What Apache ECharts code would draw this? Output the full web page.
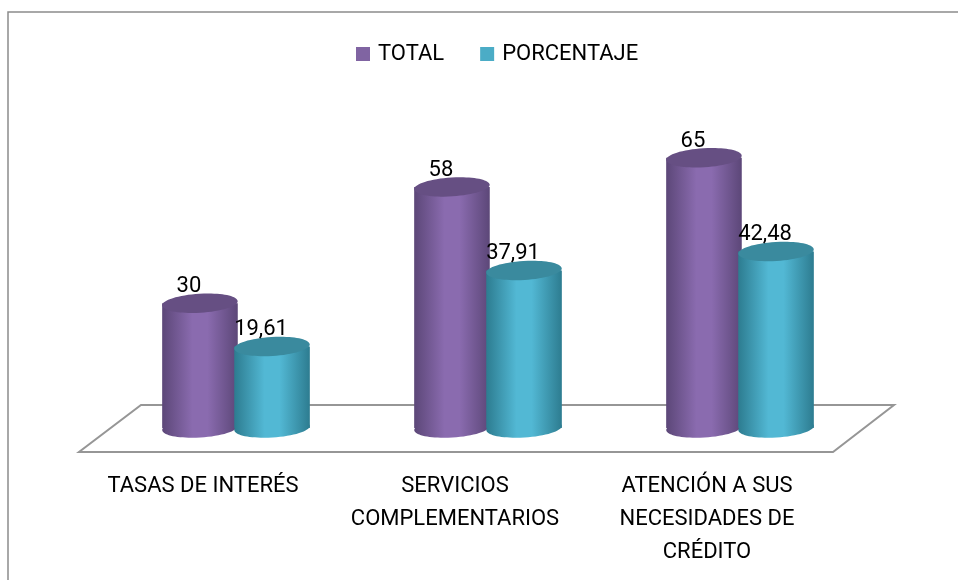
<!DOCTYPE html>
<html>
<head>
<meta charset="utf-8">
<script src="https://cdn.jsdelivr.net/npm/echarts@6/dist/echarts.min.js"></script>
<style>
  html, body { margin: 0; padding: 0; background: #fff; }
  #chart { width: 958px; height: 580px; }
</style>
</head>
<body>
<div id="chart"></div>
<script>
const categories = ['TASAS DE INTERÉS', 'SERVICIOS\nCOMPLEMENTARIOS', 'ATENCIÓN A SUS\nNECESIDADES DE\nCRÉDITO'];
const seriesNames = ['TOTAL', 'PORCENTAJE'];
const totalValues = [30, 58, 65];
const percentValues = [19.61, 37.91, 42.48];

const FONT = "Roboto, 'Liberation Sans', sans-serif";
const FS = 22;

const palette = [
  { legend: '#8064A2', top: '#664F83', edge: '#5C4778', mid: '#8A6BAF' },
  { legend: '#4BACC6', top: '#3A8A9E', edge: '#2D7C90', mid: '#52B8D4' }
];

const chart = echarts.init(document.getElementById('chart'));

// cylinder = bottom ellipse + body + darker top ellipse, plus value label
const renderCylinder = (params, api) => {
  const idx = api.value(0);
  const val = api.value(1);
  const band = api.size([1, 0])[0];
  const w = band * 0.30;
  const rx = w / 2;
  const ry = 9.5;
  const shift = (params.seriesIndex === 0 ? -1 : 1) * band * 0.143;
  const top = api.coord([idx, val]);
  const base = api.coord([idx, 0]);
  const cx = top[0] + shift;
  const c = palette[params.seriesIndex];
  const bodyFill = {
    type: 'linear', x: 0, y: 0, x2: 1, y2: 0,
    colorStops: [
      { offset: 0, color: c.edge },
      { offset: 0.4, color: c.mid },
      { offset: 0.6, color: c.mid },
      { offset: 1, color: c.edge }
    ]
  };
  return {
    type: 'group',
    children: [
      { type: 'ellipse', x: cx, y: base[1], rotation: 0.06, shape: { cx: 0, cy: 0, rx: rx, ry: ry }, style: { fill: bodyFill } },
      { type: 'rect', shape: { x: cx - rx, y: top[1], width: w, height: base[1] - top[1] }, style: { fill: bodyFill } },
      { type: 'ellipse', x: cx, y: top[1], rotation: 0.06, shape: { cx: 0, cy: 0, rx: rx, ry: ry }, style: { fill: c.top } },
      {
        type: 'text',
        style: {
          text: String(val).replace('.', ','),
          x: cx - 11, y: top[1] - ry + 4,
          align: 'center', verticalAlign: 'bottom',
          font: FS + 'px ' + FONT, fill: '#000'
        }
      }
    ]
  };
};

const option = {
  animation: false,
  graphic: [
    // outer frame (only top/left visible)
    { type: 'rect', z: -10, shape: { x: 8, y: 12, width: 1200, height: 1000 }, style: { fill: 'none', stroke: '#8c8c8c', lineWidth: 1.5 } },
    // floor
    { type: 'polygon', z: -5, shape: { points: [[141, 405], [894, 405], [833, 452], [79, 452]] }, style: { fill: 'none', stroke: '#969696', lineWidth: 2 } }
  ],
  legend: {
    top: 38,
    left: 351,
    itemWidth: 14,
    itemHeight: 14,
    itemGap: 36,
    icon: 'rect',
    textStyle: { fontFamily: FONT, fontSize: FS, color: '#000', padding: [0, 0, 0, 3] },
    data: seriesNames
  },
  grid: { left: 110, right: 92, top: 137, bottom: 152 },
  xAxis: {
    type: 'category',
    data: categories,
    axisLine: { show: false },
    axisTick: { show: false },
    axisLabel: {
      interval: 0,
      margin: 42,
      fontFamily: FONT,
      fontSize: FS,
      lineHeight: 33,
      color: '#000',
      align: 'center',
      padding: [0, 66, 0, 0]
    }
  },
  yAxis: {
    type: 'value',
    min: 0,
    max: 70,
    show: false,
    splitLine: { show: false }
  },
  series: [
    {
      name: seriesNames[0],
      type: 'custom',
      renderItem: renderCylinder,
      itemStyle: { color: palette[0].legend },
      encode: { x: 0, y: 1 },
      data: totalValues.map((v, i) => [i, v])
    },
    {
      name: seriesNames[1],
      type: 'custom',
      renderItem: renderCylinder,
      itemStyle: { color: palette[1].legend },
      encode: { x: 0, y: 1 },
      data: percentValues.map((v, i) => [i, v])
    }
  ]
};

chart.setOption(option);
</script>
</body>
</html>
